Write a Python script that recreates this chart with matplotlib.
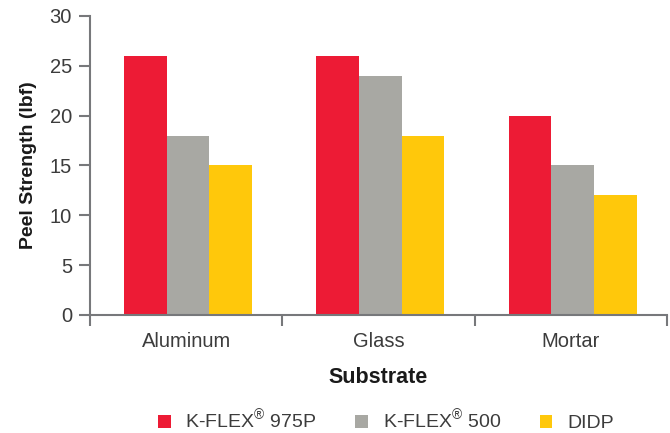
import matplotlib
matplotlib.use("Agg")
import matplotlib.pyplot as plt
from matplotlib.patches import Patch
import numpy as np

categories = ["Aluminum", "Glass", "Mortar"]
series_names = ["K-FLEX$^{\\mathregular{®}}$ 975P", "K-FLEX$^{\\mathregular{®}}$ 500", "DIDP"]
kflex_975p = [26, 26, 20]
kflex_500 = [18, 24, 15]
didp = [15, 18, 12]
y_ticks = [0, 5, 10, 15, 20, 25, 30]

colors = ["#ED1B35", "#A8A8A3", "#FFC80B"]
plt.rcParams['font.family'] = ['Liberation Sans', 'DejaVu Sans']

fig = plt.figure(figsize=(6.7, 4.33), dpi=100)
ax = fig.add_axes([90/670, 1-315/433, 577/670, 299/433])

x = np.arange(len(categories))
w = 0.222
for i, (vals, c) in enumerate(zip([kflex_975p, kflex_500, didp], colors)):
    ax.bar(x + 0.01 + (i-1)*w, vals, width=w, color=c, linewidth=0)

ax.set_xlim(-0.5, len(categories)-0.5)
ax.set_ylim(0, 30)
ax.set_yticks(y_ticks)
ax.set_xticks(x)
ax.set_xticklabels(categories)
ax.set_xticks(np.arange(-0.5, len(categories), 1.0), minor=True)

spine_c = "#77787B"
for s in ["top", "right"]:
    ax.spines[s].set_visible(False)
for s in ["left", "bottom"]:
    ax.spines[s].set_color(spine_c)
    ax.spines[s].set_linewidth(1.5)

txt_c = "#3C3C3C"
ax.tick_params(axis="y", direction="out", length=8, width=1.5, color=spine_c,
               labelsize=14.5, labelcolor=txt_c, pad=5)
ax.tick_params(axis="x", which="major", length=0, labelsize=14.5, labelcolor=txt_c, pad=12)
ax.tick_params(axis="x", which="minor", direction="out", length=8, width=1.5, color=spine_c)

ax.set_ylabel("Peel Strength (lbf)", fontsize=14, fontweight="bold", color="#1a1a1a", labelpad=9)
ax.set_xlabel("Substrate", fontsize=15.5, fontweight="bold", color="#1a1a1a", labelpad=12)

handles = [Patch(facecolor=c, edgecolor="none") for c in colors]
fig.legend(handles, series_names, loc="center", bbox_to_anchor=(0.576, 1-420/433),
           ncol=3, frameon=False, fontsize=14, handlelength=0.65, handleheight=0.65,
           handletextpad=0.75, columnspacing=2.0, labelcolor=txt_c)

fig.savefig("out.png", dpi=100)
